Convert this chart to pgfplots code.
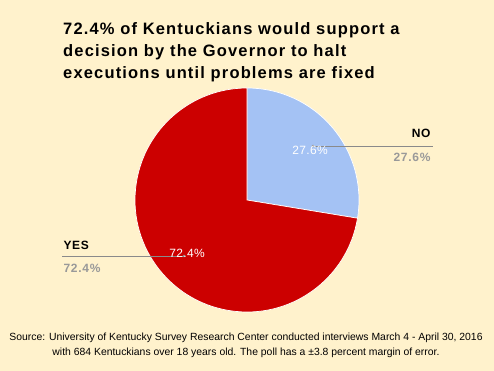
\documentclass[border=0pt]{standalone}
\usepackage{pgfplots}
\pgfplotsset{compat=1.18}
\usepackage{pgfplotstable}
\usepackage{fontspec}
\setmainfont{Liberation Sans}
\definecolor{bg}{HTML}{FFF2CC}
\definecolor{yesred}{HTML}{CC0000}
\definecolor{noblue}{HTML}{A4C2F4}
\definecolor{lead}{HTML}{8A8A8A}
\definecolor{pct}{HTML}{999999}
\pgfplotstableread{
label value
NO 27.6
YES 72.4
}\piedata
\pgfplotstablegetelem{0}{value}\of\piedata \let\vno\pgfplotsretval
\pgfplotstablegetelem{1}{value}\of\piedata \let\vyes\pgfplotsretval
\newcommand{\pnum}[1]{\pgfmathprintnumber[fixed,precision=1,fixed zerofill,assume math mode=true]{#1}}
\begin{document}
\begin{tikzpicture}
\begin{axis}[
  scale only axis, width=494pt, height=371pt,
  xmin=0, xmax=494, ymin=0, ymax=371,
  hide axis, clip=false,
]
% background
\fill[bg] (axis cs:0,0) rectangle (axis cs:494,371);
\pgfmathsetmacro{\aone}{90-3.6*\vno}
\pgfmathsetmacro{\atwo}{\aone-3.6*\vyes}
% slices
\fill[noblue, draw=white, line width=0.7pt] (axis cs:247,171) -- (axis cs:247,283) arc[start angle=90, end angle=\aone, radius=112pt] -- cycle;
\fill[yesred, draw=white, line width=0.7pt] (axis cs:247,171) -- ++(\aone:112pt) arc[start angle=\aone, end angle=\atwo, radius=112pt] -- cycle;
% leader lines
\draw[lead, line width=0.8pt] (axis cs:313,225) -- (axis cs:433,225);
\fill[lead] (axis cs:313,225) circle[radius=1.3pt];
\draw[lead, line width=0.8pt] (axis cs:62,115) -- (axis cs:184,115);
\fill[lead] (axis cs:184,115) circle[radius=1.3pt];
% inner labels
\node[white, font=\fontsize{12}{14}\selectfont\addfontfeature{LetterSpace=3}] at (axis cs:310,221) {\pnum{\vno}\%};
\node[white, font=\fontsize{12}{14}\selectfont\addfontfeature{LetterSpace=3}] at (axis cs:187,118) {\pnum{\vyes}\%};
% outer labels
\node[anchor=east, font=\bfseries\fontsize{12}{14}\selectfont\addfontfeature{LetterSpace=6}] at (axis cs:434,238) {NO};
\node[anchor=east, pct, font=\bfseries\fontsize{12}{14}\selectfont\addfontfeature{LetterSpace=6}] at (axis cs:434,214) {\pnum{\vno}\%};
\node[anchor=west, font=\bfseries\fontsize{12}{14}\selectfont\addfontfeature{LetterSpace=6}] at (axis cs:60,126) {YES};
\node[anchor=west, pct, font=\bfseries\fontsize{12}{14}\selectfont\addfontfeature{LetterSpace=6}] at (axis cs:60,103) {\pnum{\vyes}\%};
% title
\node[anchor=north west, align=left, inner sep=0pt, font=\bfseries\fontsize{16.5}{22}\selectfont\addfontfeature{LetterSpace=7}] at (axis cs:63,349) {72.4\% of Kentuckians would support a\\decision by the Governor to halt\\executions until problems are fixed};
% source
\node[align=center, inner sep=0pt, font=\fontsize{10.4}{15}\selectfont] at (axis cs:246,26) {Source: University of Kentucky Survey Research Center conducted interviews March 4 - April 30, 2016\\with 684 Kentuckians over 18 years old. The poll has a ±3.8 percent margin of error.};
\end{axis}
\end{tikzpicture}
\end{document}
